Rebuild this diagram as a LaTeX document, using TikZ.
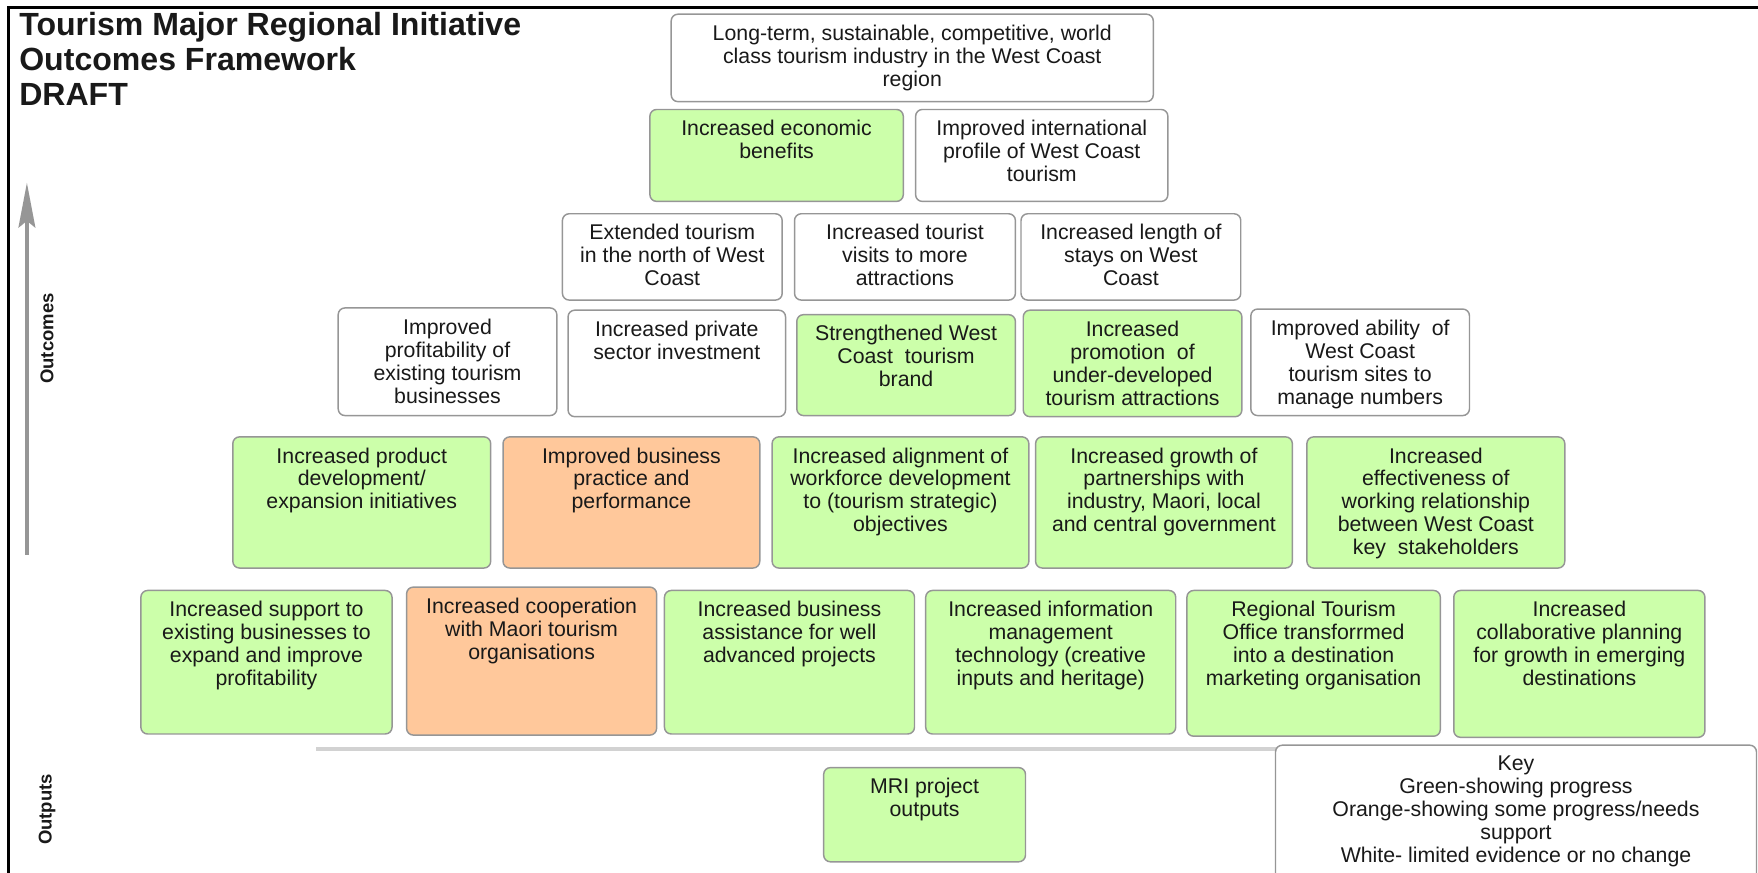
\documentclass[tikz,border=0pt]{standalone}
\usepackage{fontspec}
\setmainfont{Liberation Sans}
\usetikzlibrary{arrows.meta}
\definecolor{bgreen}{RGB}{204,255,170}
\definecolor{borange}{RGB}{255,200,155}
\definecolor{bline}{RGB}{150,150,150}
\definecolor{sepc}{RGB}{210,210,210}
\definecolor{txtc}{RGB}{25,25,25}
\tikzset{
 box/.style={draw=bline, line width=1.3pt, rounded corners=6pt, fill=white},
 gbox/.style={box, fill=bgreen},
 obox/.style={box, fill=borange},
 wbox/.style={box},
 txt/.style={align=center, inner sep=0pt, text=txtc, font=\fontsize{19}{20.5}\selectfont},
 side/.style={rotate=90, inner sep=0pt, text=txtc, font=\bfseries\fontsize{16.5}{18}\selectfont},
 frame/.style={line width=2.7pt, black},
}
\newcommand\bx[7]{%
 \pgfmathsetmacro\bw{#4-#2}\pgfmathsetmacro\bh{#5-#3}%
 \node[#6, anchor=north west, minimum width=\bw pt, minimum height=\bh pt, inner sep=0pt] (#1) at (#2,-#3) {};
 \node[txt, anchor=north] (#1t) at ([yshift=-10pt]#1.north) {#7};
}
\begin{document}
\begin{tikzpicture}[x=1pt,y=1pt]
\useasboundingbox (0,0) rectangle (1568,-778);
\begin{scope}
\clip (0,0) rectangle (1568,-778);
% frame
\coordinate (fTL) at (7.5,-6.5);
\coordinate (fTR) at (1570,-6.5);
\coordinate (fBL) at (7.5,-780);
\draw[frame] (fBL) -- (fTL) -- (fTR);
% title
\node[anchor=north west, align=left, inner sep=0pt, text=txtc, font=\bfseries\fontsize{28.6}{31}\selectfont] (title) at (17,-11) {Tourism Major Regional Initiative\\Outcomes Framework\\DRAFT};
% arrow and side labels
\coordinate (arrB) at (24,-495);
\coordinate (arrT) at (24,-163);
\draw[line width=3pt, draw=bline, -{Stealth[length=40pt,width=15pt,inset=6pt]}] (arrB) -- (arrT);
\node[side] (outc) at (42,-302) {Outcomes};
\node[side] (outp) at (42,-722) {Outputs};
% separator
\coordinate (sepL) at (282,-668);
\coordinate (sepR) at (1140,-668);
\draw[line width=3pt, sepc] (sepL) -- (sepR);
% row 1
\bx{r1a}{598}{12}{1028}{90}{wbox}{Long-term, sustainable, competitive, world\\class tourism industry in the West Coast\\region}
% row 2
\bx{r2a}{579}{97}{805}{179}{gbox}{Increased economic\\benefits}
\bx{r2b}{816}{97}{1041}{179}{wbox}{Improved international\\profile of West Coast\\tourism}
% row 3
\bx{r3a}{501}{190}{697}{267}{wbox}{Extended tourism\\in the north of West\\Coast}
\bx{r3b}{708}{190}{905}{267}{wbox}{Increased tourist\\visits to more\\attractions}
\bx{r3c}{910}{190}{1106}{267}{wbox}{Increased length of\\stays on West\\Coast}
% row 4
\bx{r4a}{301}{274}{496}{370}{wbox}{Improved\\profitability of\\existing tourism\\businesses}
\bx{r4b}{506}{276}{700}{371}{wbox}{Increased private\\sector investment}
\bx{r4c}{710}{280}{905}{370}{gbox}{Strengthened West\\Coast~ tourism\\brand}
\bx{r4d}{912}{276}{1107}{371}{gbox}{Increased\\promotion~ of\\under-developed\\tourism attractions}
\bx{r4e}{1115}{275}{1310}{370}{wbox}{Improved ability~ of\\West Coast\\tourism sites to\\manage numbers}
% row 5
\bx{r5a}{207}{389}{437}{506}{gbox}{Increased product\\development/\\expansion initiatives}
\bx{r5b}{448}{389}{677}{506}{obox}{Improved business\\practice and\\performance}
\bx{r5c}{688}{389}{917}{506}{gbox}{Increased alignment of\\workforce development\\to (tourism strategic)\\objectives}
\bx{r5d}{923}{389}{1152}{506}{gbox}{Increased growth of\\partnerships with\\industry, Maori, local\\and central government}
\bx{r5e}{1165}{389}{1395}{506}{gbox}{Increased\\effectiveness of\\working relationship\\between West Coast\\key~ stakeholders}
% row 6
\bx{r6a}{125}{526}{349}{654}{gbox}{Increased support to\\existing businesses to\\expand and improve\\profitability}
\bx{r6b}{362}{523}{585}{655}{obox}{Increased cooperation\\with Maori tourism\\organisations}
\bx{r6c}{592}{526}{815}{654}{gbox}{Increased business\\assistance for well\\advanced projects}
\bx{r6d}{825}{526}{1048}{654}{gbox}{Increased information\\management\\technology (creative\\inputs and heritage)}
\bx{r6e}{1058}{526}{1284}{656}{gbox}{Regional Tourism\\Office transforrmed\\into a destination\\marketing organisation}
\bx{r6f}{1296}{526}{1520}{657}{gbox}{Increased\\collaborative planning\\for growth in emerging\\destinations}
% outputs
\bx{out}{734}{684}{914}{768}{gbox}{MRI project\\outputs}
% key
\bx{key}{1137}{664}{1566}{800}{wbox}{Key\\Green-showing progress\\Orange-showing some progress/needs\\support\\White- limited evidence or no change}
\end{scope}
\end{tikzpicture}
\end{document}
